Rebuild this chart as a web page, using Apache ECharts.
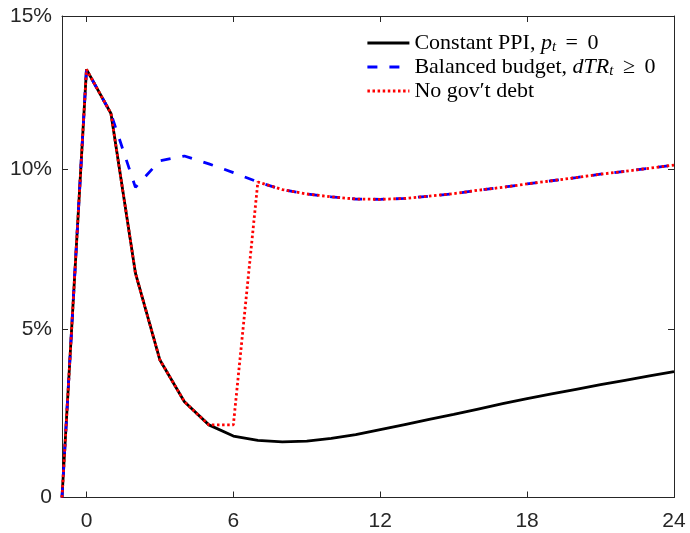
<!DOCTYPE html>
<html>
<head>
<meta charset="utf-8">
<script src="https://cdn.jsdelivr.net/npm/echarts@6/dist/echarts.min.js"></script>
<style>
  html, body { margin: 0; padding: 0; background: #ffffff; }
  #chart { width: 690px; height: 533px; }
</style>
</head>
<body>
<div id="chart"></div>
<script>
// Months after the shock
const months = [-1, 0, 1, 2, 3, 4, 5, 6, 7, 8, 9, 10, 11, 12, 13, 14, 15, 16, 17, 18, 19, 20, 21, 22, 23, 24];

// Responses in percent
const constantPPI = [0, 13.23, 11.79, 6.73, 4.07, 2.82, 2.13, 1.80, 1.67, 1.63, 1.65, 1.73, 1.84,
  1.99, 2.14, 2.29, 2.44, 2.60, 2.76, 2.91, 3.05, 3.19, 3.33, 3.46, 3.59, 3.72];
const balancedBudget = [0, 13.23, 11.79, 9.42, 10.27, 10.42, 10.17, 9.89, 9.59, 9.35, 9.21, 9.12, 9.05,
  9.04, 9.07, 9.14, 9.22, 9.33, 9.42, 9.53, 9.63, 9.73, 9.84, 9.93, 10.03, 10.13];
const noGovDebt = [0, 13.23, 11.79, 6.73, 4.07, 2.82, 2.13, 2.13, 9.59, 9.35, 9.21, 9.12, 9.05,
  9.04, 9.07, 9.14, 9.22, 9.33, 9.42, 9.53, 9.63, 9.73, 9.84, 9.93, 10.03, 10.13];

// Axis ticks
const xTicks = [0, 6, 12, 18, 24];
const yTicksPct = [0, 5, 10, 15];

// Series names and their typeset legend labels
const seriesNames = ['Constant PPI, pt = 0', 'Balanced budget, dTRt \u2265 0', 'No gov\u2032t debt'];
const legendLabels = {
  'Constant PPI, pt = 0': 'Constant PPI, {it|p}{sub|t}{gap| }={gap| }0',
  'Balanced budget, dTRt \u2265 0': 'Balanced budget, {it|dTR}{sub|t}{gap| }\u2265{gap| }0',
  'No gov\u2032t debt': 'No gov\u2032t debt'
};

// The vertical scale is logarithmic in gross terms: plot ln(1 + r)
const toLog = p => Math.log(1 + p / 100);
const pairs = arr => months.map((m, i) => [m, toLog(arr[i])]);
const yTicks = yTicksPct.map(toLog);

const axisColor = '#262626';
const tickFont = { fontFamily: 'Liberation Sans, Arial, sans-serif', fontSize: 21, color: axisColor };
const serif = 'Liberation Serif, Times New Roman, serif';

const chart = echarts.init(document.getElementById('chart'), null, { renderer: 'canvas' });

const xBase = {
  type: 'value', min: -1, max: 24,
  axisLine: { onZero: false, lineStyle: { color: axisColor, width: 1 } },
  axisTick: { inside: true, length: 6, customValues: xTicks, lineStyle: { color: axisColor } },
  splitLine: { show: false }
};
const yBase = {
  type: 'value', min: 0, max: toLog(15),
  axisLine: { onZero: false, lineStyle: { color: axisColor, width: 1 } },
  axisTick: { inside: true, length: 6, customValues: yTicks, lineStyle: { color: axisColor } },
  splitLine: { show: false }
};

chart.setOption({
  animation: false,
  backgroundColor: '#ffffff',
  grid: { left: 62, right: 16, top: 16, bottom: 35.5 },
  xAxis: [
    Object.assign({}, xBase, {
      position: 'bottom',
      axisLabel: Object.assign({ customValues: xTicks, margin: 13 }, tickFont)
    }),
    Object.assign({}, xBase, { position: 'top', axisLabel: { show: false } })
  ],
  yAxis: [
    Object.assign({}, yBase, {
      position: 'left',
      axisLabel: Object.assign({
        customValues: yTicks, margin: 10,
        formatter: v => {
          const p = Math.round((Math.exp(v) - 1) * 100);
          return p === 0 ? '0' : p + '%';
        }
      }, tickFont)
    }),
    Object.assign({}, yBase, { position: 'right', axisLabel: { show: false } })
  ],
  legend: {
    orient: 'vertical',
    left: 366,
    top: 31,
    padding: 0,
    itemWidth: 42,
    itemHeight: 14,
    itemGap: 0,
    data: seriesNames,
    formatter: name => legendLabels[name],
    itemStyle: { opacity: 0 },
    lineStyle: { width: 2.8 },
    textStyle: {
      fontFamily: serif,
      fontSize: 22,
      lineHeight: 24,
      color: '#000000',
      rich: {
        it: { fontFamily: serif, fontStyle: 'italic', fontSize: 22 },
        sub: { fontFamily: serif, fontStyle: 'italic', fontSize: 15, verticalAlign: 'bottom', padding: [12, 0, 0, 0] },
        gap: { fontFamily: serif, fontSize: 22, padding: [0, 2, 0, 2] }
      }
    }
  },
  series: [
    {
      name: seriesNames[0], type: 'line', xAxisIndex: 0, yAxisIndex: 0,
      data: pairs(constantPPI), symbol: 'none', z: 2,
      lineStyle: { color: '#000000', width: 2.8, type: 'solid' },
      itemStyle: { color: '#000000' }
    },
    {
      name: seriesNames[1], type: 'line', xAxisIndex: 0, yAxisIndex: 0,
      data: pairs(balancedBudget), symbol: 'none', z: 3,
      lineStyle: { color: '#0000ff', width: 2.8, type: [10, 12], cap: 'butt' },
      itemStyle: { color: '#0000ff' }
    },
    {
      name: seriesNames[2], type: 'line', xAxisIndex: 0, yAxisIndex: 0,
      data: pairs(noGovDebt), symbol: 'none', z: 4,
      lineStyle: { color: '#ff0000', width: 2.8, type: [2.5, 2.6], cap: 'butt' },
      itemStyle: { color: '#ff0000' }
    }
  ]
});
</script>
</body>
</html>
